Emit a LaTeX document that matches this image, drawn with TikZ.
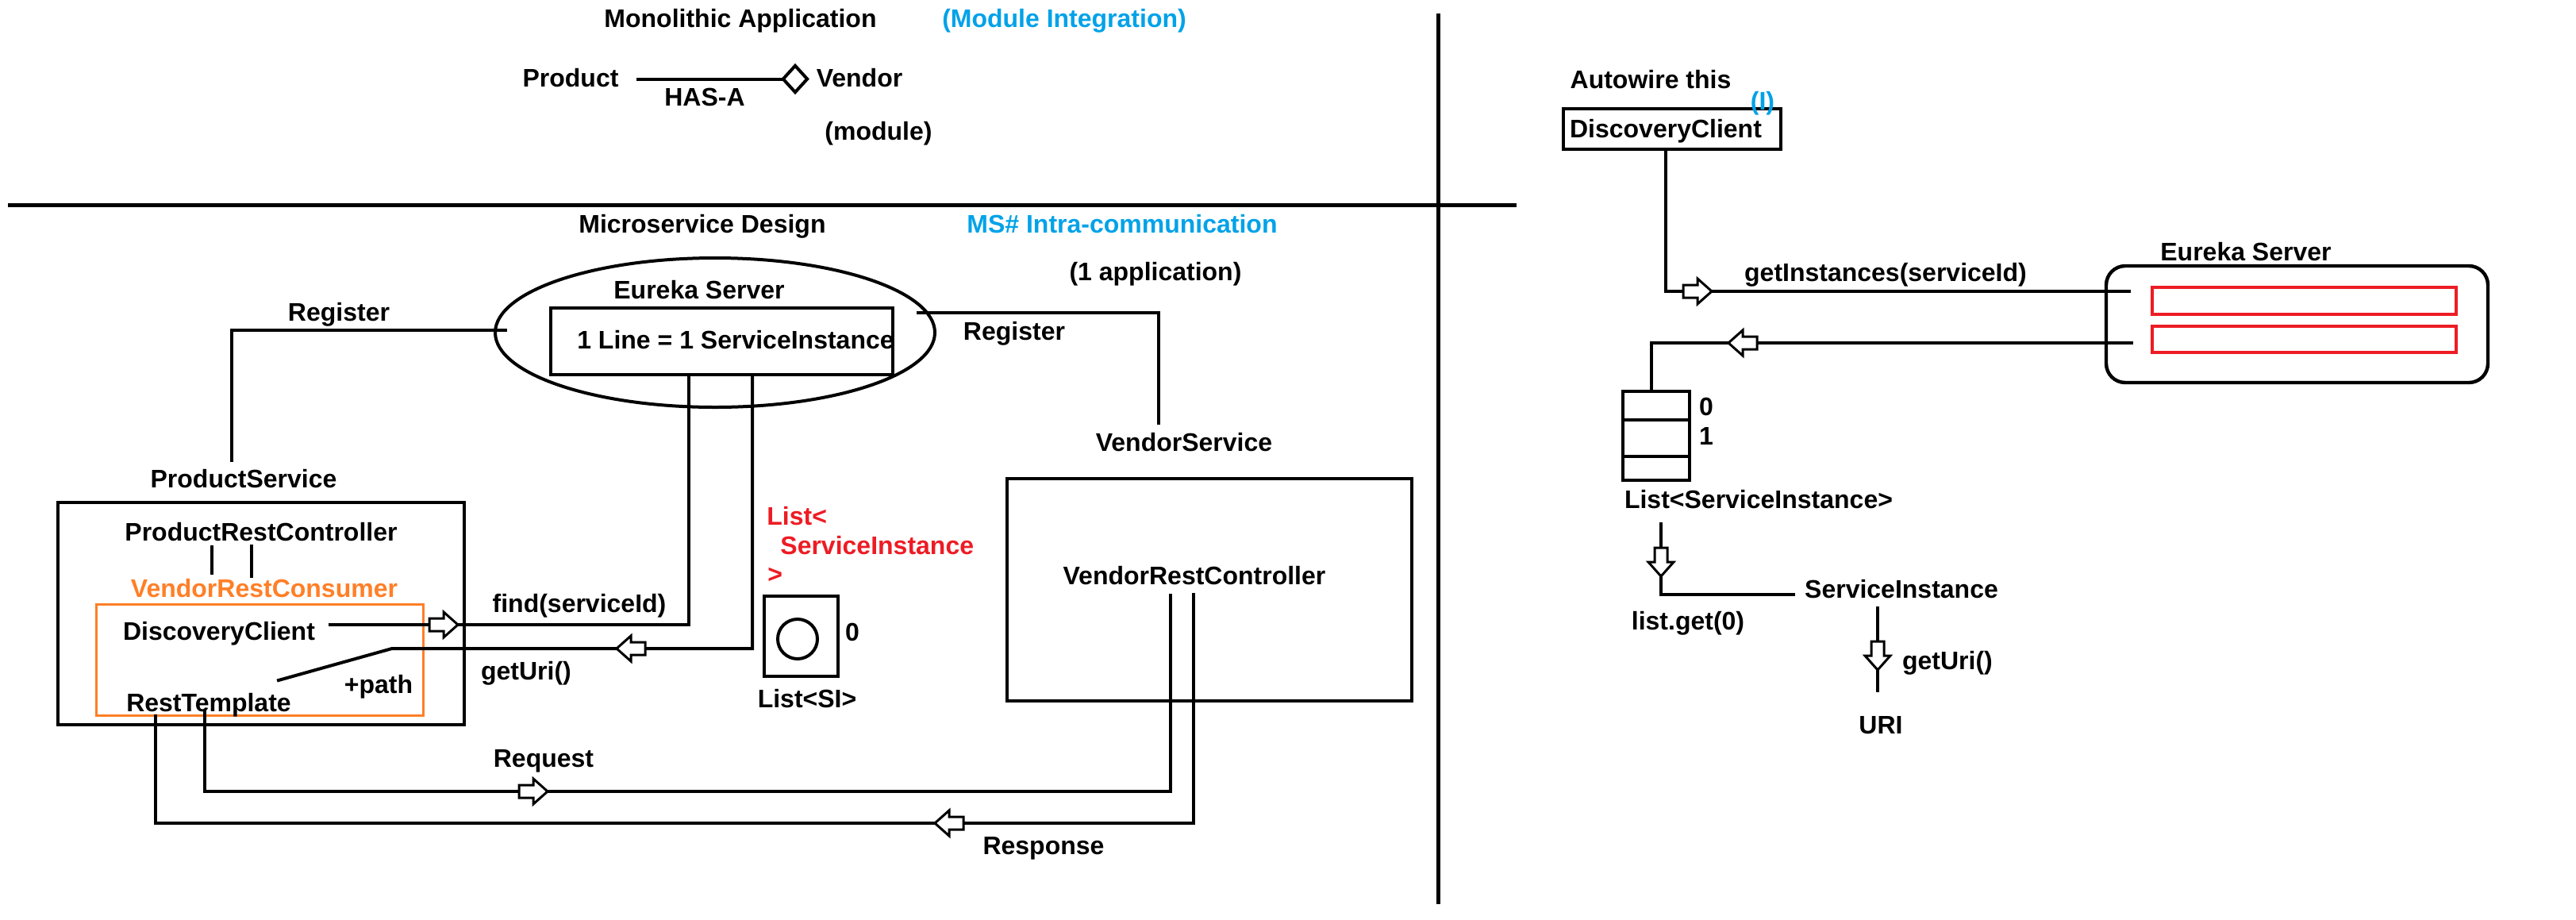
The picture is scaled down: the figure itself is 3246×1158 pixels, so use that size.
\documentclass[tikz,border=0pt]{standalone}
\usepackage{fontspec}
\setmainfont{Liberation Sans}
\usetikzlibrary{shapes.geometric}
\definecolor{pblue}{HTML}{00A2E8}
\definecolor{pred}{HTML}{ED1C24}
\definecolor{porange}{HTML}{FF7F27}
\begin{document}
\begin{tikzpicture}[x=0.5pt,y=-0.5pt,
  txt/.style={font=\fontsize{16}{19}\selectfont\bfseries, inner sep=0pt, text height=11.5pt, text depth=0pt},
  ln/.style={line width=2pt, line cap=rect},
  divider/.style={line width=2.5pt},
  box/.style={draw, line width=2.2pt, inner sep=0pt},
  redbox/.style={draw=pred, line width=2pt, inner sep=0pt},
  harrow/.pic={\draw[line width=1.5pt, fill=white, line join=miter]
     (0,0) -- (-18,16) -- (-18,8) -- (-36,8) -- (-36,-8) -- (-18,-8) -- (-18,-16) -- cycle;}
]
\useasboundingbox[fill=white] (0,0) rectangle (3246,1158);

% ---------- dividers ----------
\coordinate (hl) at (10,258);
\coordinate (hr) at (1911,258);
\coordinate (vt) at (1812,17);
\coordinate (vb) at (1812,1139);
\draw[divider] (hl) -- (hr);
\draw[divider] (vt) -- (vb);

% ---------- monolithic ----------
\node[txt] (mono) at (933,23) {Monolithic Application};
\node[txt, text=pblue] (modint) at (1341,23) {(Module Integration)};
\node[txt] (product) at (719,98) {Product};
\node[txt] (vendor) at (1083,98) {Vendor};
\node[txt] (hasa) at (888,122) {HAS-A};
\node[txt] (module) at (1107,165) {(module)};
\node[diamond, draw, line width=2pt, minimum width=16pt, minimum height=17.5pt, inner sep=0pt] (dia) at (1002,99.5) {};
\coordinate (hasastart) at (804,99.5);
\draw[ln] (hasastart) -- (dia.west);

% ---------- microservice design ----------
\node[txt] (msd) at (885,282) {Microservice Design};
\node[txt, text=pblue] (msic) at (1414,282) {MS\# Intra-communication};
\node[txt] (oneapp) at (1456,342) {(1 application)};
\node[draw, ellipse, line width=2pt, minimum width=277pt, minimum height=94pt, inner sep=0pt] (eur) at (901,419) {};
\node[txt] (eurt) at (881,365) {Eureka Server};
\node[box, minimum width=215.5pt, minimum height=42pt] (reg) at (909.5,430) {};
\node[txt] (regt) at (927,428) {1 Line = 1 ServiceInstance};

% register (left)
\coordinate (rl1) at (637,416);
\coordinate (rl2) at (292,416);
\coordinate (rl3) at (292,580);
\draw[ln] (rl1) -- (rl2) -- (rl3);
\node[txt] (regL) at (427,393) {Register};
\node[txt] (psl) at (307,603) {ProductService};

% register (right)
\coordinate (rr1) at (1157,394);
\coordinate (rr2) at (1460,394);
\coordinate (rr3) at (1460,533);
\draw[ln] (rr1) -- (rr2) -- (rr3);
\node[txt] (regR) at (1278,417) {Register};
\node[txt] (vsl) at (1492,557) {VendorService};

% product service box
\node[box, minimum width=256pt, minimum height=140pt] (psbox) at (329,773) {};
\node[txt] (prc) at (329,670) {ProductRestController};
\coordinate (t1a) at (267,689); \coordinate (t1b) at (267,722);
\coordinate (t2a) at (317,688); \coordinate (t2b) at (317,726);
\draw[ln] (t1a) -- (t1b);
\draw[ln] (t2a) -- (t2b);
\node[txt, text=porange] (vrc) at (333,741) {VendorRestConsumer};
\node[draw=porange, line width=1.5pt, minimum width=206pt, minimum height=70pt, inner sep=0pt] (orect) at (327,831) {};
\node[txt] (dc) at (276,795) {DiscoveryClient};
\node[txt] (rt) at (263,885) {RestTemplate};
\node[txt] (pth) at (477,862) {+path};

% find(serviceId)
\coordinate (fa) at (416,787);
\coordinate (fb) at (868,787);
\draw[ln] (fa) -- (fb) -- (fb |- reg.south);
\pic at (577,787) {harrow};
\node[txt] (findt) at (730,760) {find(serviceId)};

% getUri()
\coordinate (ga) at (948,817);
\coordinate (gb) at (494,817);
\coordinate (gc) at (351,857);
\draw[ln] (ga |- reg.south) -- (ga) -- (gb) -- (gc);
\pic[rotate=180] at (777,817) {harrow};
\node[txt] (geturit) at (663,845) {getUri()};

% List<SI>
\node[box, minimum width=46.5pt, minimum height=50.5pt] (lsi) at (1009.5,801.5) {};
\node[circle, draw, line width=2pt, minimum size=25pt, inner sep=0pt] (lsic) at (1005,805) {};
\node[txt] (lsi0) at (1074,796) {0};
\node[txt] (lsit) at (1017,880) {List<SI>};
\node[txt, text=pred, anchor=west] (red1) at (966,650) {List<};
\node[txt, text=pred, anchor=west] (red2) at (983,687) {ServiceInstance};
\node[txt, text=pred, anchor=west] (red3) at (967,723) {>};

% vendor service box
\node[box, minimum width=255pt, minimum height=140pt] (vsbox) at (1524,743) {};
\node[txt] (vrct) at (1505,725) {VendorRestController};

% request
\coordinate (qa) at (258,897);
\coordinate (qb) at (258,997);
\coordinate (qc) at (1475,997);
\coordinate (qd) at (1475,750);
\draw[ln] (qa) -- (qb) -- (qc) -- (qd);
\pic at (690,997) {harrow};
\node[txt] (reqt) at (685,955) {Request};

% response
\coordinate (sa) at (1504,749);
\coordinate (sb) at (1504,1037);
\coordinate (sc) at (196,1037);
\coordinate (sd) at (196,902);
\draw[ln] (sa) -- (sb) -- (sc) -- (sd);
\pic[rotate=180] at (1178,1037) {harrow};
\node[txt] (respt) at (1315,1065) {Response};

% ---------- right part ----------
\node[txt] (autow) at (2080,100) {Autowire this};
\node[box, minimum width=137pt, minimum height=25.5pt] (dcbox) at (2107,162.5) {};
\node[txt] (dct) at (2099,162) {DiscoveryClient};
\node[txt, text=pblue] (iface) at (2221,127) {(I)};

\coordinate (ia) at (2099,367);
\coordinate (ib) at (2683,367);
\draw[ln] (ia |- dcbox.south) -- (ia) -- (ib);
\pic at (2157,367) {harrow};
\node[txt] (getinst) at (2376,343) {getInstances(serviceId)};

\node[box, rounded corners=12pt, minimum width=240.5pt, minimum height=73.5pt] (eurbox) at (2894.5,408.5) {};
\node[txt] (eurbt) at (2830,317) {Eureka Server};
\node[redbox, minimum width=191.5pt, minimum height=17pt] (r1) at (2903.5,379) {};
\node[redbox, minimum width=191.5pt, minimum height=16.5pt] (r2) at (2903.5,427.5) {};

\node[box, minimum width=42pt, minimum height=56pt] (lbox) at (2087,549) {};
\coordinate (ra) at (2686,432);
\coordinate (rb) at (2081,432);
\draw[ln] (ra) -- (rb) -- (rb |- lbox.north);
\pic[rotate=180] at (2178,432) {harrow};
\coordinate (d1) at (2045,529);
\coordinate (d2) at (2045,575);
\draw[line width=2.2pt] (d1) -- (d1 -| lbox.east);
\draw[line width=2.2pt] (d2) -- (d2 -| lbox.east);
\node[txt] (l0) at (2150,512) {0};
\node[txt] (l1) at (2150,549) {1};
\node[txt] (lst) at (2216,629) {List<ServiceInstance>};

\coordinate (ga1) at (2093,660);
\coordinate (ga2) at (2093,749);
\coordinate (ga3) at (2260,749);
\draw[ln] (ga1) -- (ga2) -- (ga3);
\pic[rotate=-90] at (2093,726) {harrow};
\node[txt] (sit) at (2396,742) {ServiceInstance};
\node[txt] (lget) at (2127,782) {list.get(0)};

\coordinate (ub1) at (2366,766);
\coordinate (ub2) at (2366,870);
\draw[ln] (ub1) -- (ub2);
\pic[rotate=-90] at (2366,844) {harrow};
\node[txt] (geturi2) at (2454,832) {getUri()};
\node[txt] (urit) at (2370,913) {URI};
\end{tikzpicture}
\end{document}
